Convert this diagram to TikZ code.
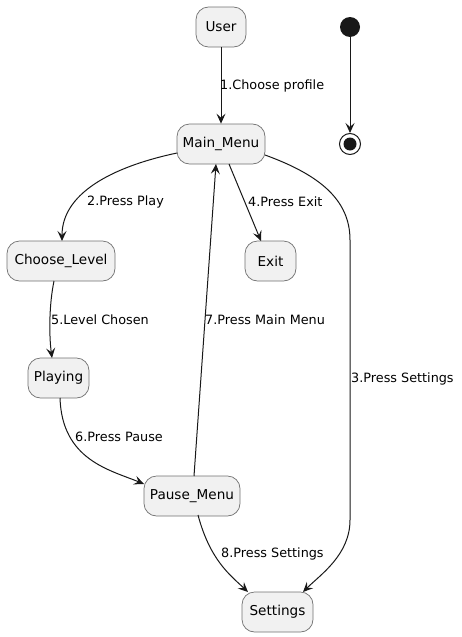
\documentclass[tikz,border=0pt]{standalone}
\usepackage{fontspec}
\setmainfont{DejaVu Sans}
\usetikzlibrary{arrows.meta}
\definecolor{stfill}{HTML}{F1F1F1}
\definecolor{stline}{HTML}{181818}
\definecolor{stborder}{HTML}{707070}
\begin{document}
\begin{tikzpicture}[x=1pt,y=-1pt,
  state/.style={draw=stborder,line width=0.7pt,fill=stfill,rounded corners=12.5pt,minimum height=40pt,inner sep=0pt,font=\fontsize{13.6}{16}\selectfont},
  conn/.style={draw=stline,line width=1pt,-{Stealth[length=10pt,width=9pt,inset=4pt]}},
  lbl/.style={anchor=west,inner sep=0pt,font=\fontsize{12.8}{15}\selectfont}]
\useasboundingbox (0,0) rectangle (461,637);
\node[state,minimum width=50pt] (user) at (221,27) {User};
\node[state,minimum width=88pt] (main) at (221,144) {Main\_Menu};
\node[state,minimum width=108pt] (choose) at (61,261) {Choose\_Level};
\node[state,minimum width=51pt] (exit) at (270.5,261) {Exit};
\node[state,minimum width=61pt] (play) at (58.5,378) {Playing};
\node[state,minimum width=96pt] (pause) at (192,496) {Pause\_Menu};
\node[state,minimum width=71pt] (set) at (277.5,612) {Settings};
\node[circle,fill=stline,minimum size=20pt,inner sep=0pt] (init) at (350,27) {};
\node[circle,draw=stline,line width=1pt,fill=white,minimum size=21pt,inner sep=0pt] (fin) at (350,144) {};
\node[circle,fill=stline,minimum size=13pt,inner sep=0pt] (finin) at (350,144) {};
\coordinate (m2) at (177,153);
\coordinate (m3) at (265,155);
\coordinate (m4) at (229,164);
\coordinate (m7) at (216,164);
\coordinate (c2) at (62,241);
\coordinate (c5) at (54,281);
\coordinate (p5) at (52,358);
\coordinate (p6) at (60,398);
\coordinate (pm6) at (144,484);
\coordinate (pm7) at (194,476);
\coordinate (pm8) at (198,515);
\coordinate (s8) at (248,592);
\coordinate (s3) at (303,592);
\coordinate (e4) at (261,241);
\draw[conn] (user.south) -- (main.north);
\draw[conn] (m2) .. controls (120,165) and (62,190) .. (c2);
\draw[conn] (m3) .. controls (320,175) and (350,200) .. (350,240) -- (350,520) .. controls (350,555) and (320,575) .. (s3);
\draw[conn] (m4) -- (e4);
\draw[conn] (c5) .. controls (49,305) and (49,335) .. (p5);
\draw[conn] (p6) .. controls (62,460) and (110,470) .. (pm6);
\draw[conn] (pm7) -- (m7);
\draw[conn] (pm8) .. controls (210,560) and (230,575) .. (s8);
\draw[conn] (init) -- (fin);
\node[lbl] (l1) at (220,86) {1.Choose profile};
\node[lbl] (l2) at (87,202) {2.Press Play};
\node[lbl] (l3) at (351,379) {3.Press Settings};
\node[lbl] (l4) at (248,202) {4.Press Exit};
\node[lbl] (l5) at (51,320) {5.Level Chosen};
\node[lbl] (l6) at (75,437) {6.Press Pause};
\node[lbl] (l7) at (205,320) {7.Press Main Menu};
\node[lbl] (l8) at (221,554) {8.Press Settings};
\end{tikzpicture}
\end{document}
